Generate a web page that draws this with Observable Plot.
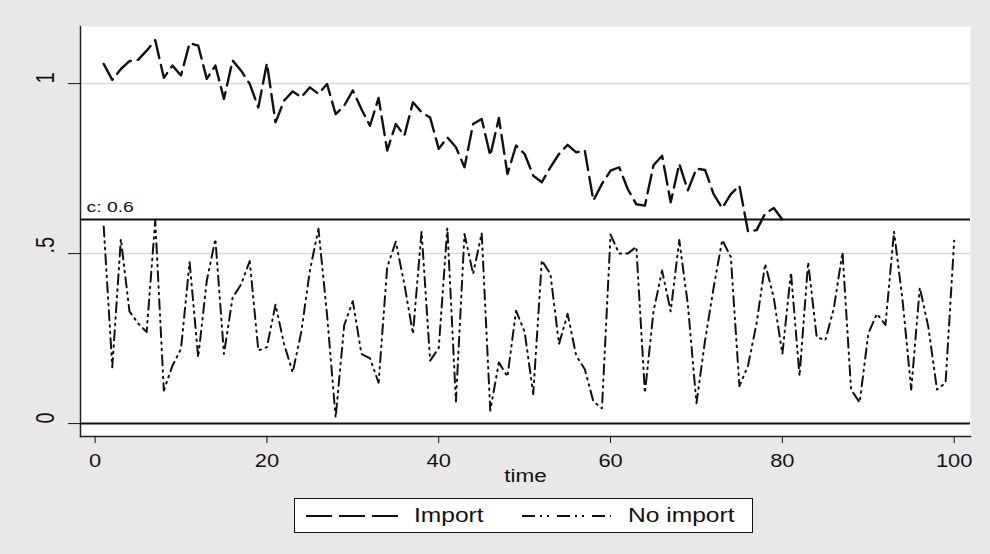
<!DOCTYPE html>
<html>
<head>
<meta charset="utf-8">
<script src="https://cdn.jsdelivr.net/npm/d3@7"></script>
<script src="https://cdn.jsdelivr.net/npm/@observablehq/plot@0.6"></script>
<style>
  html, body { margin: 0; padding: 0; background: #e8e8e8; width: 990px; height: 554px; overflow: hidden; font-family: "Liberation Sans", Arial, sans-serif; }
  #chart { position: absolute; left: 0; top: 0; }
  #legend { position: absolute; left: 294px; top: 498px; width: 457px; height: 33px; background: #fff; border: 1px solid #111; }
  #legend .item { position: absolute; top: 0; height: 33px; display: flex; align-items: center; }
  #legend .lbl span { display: inline-block; font-size: 19.5px; color: #111; white-space: nowrap; transform: scaleX(1.26); transform-origin: left center; }
</style>
</head>
<body>
<div id="chart"></div>
<div id="legend"></div>
<script>
// ---- data ----
const importValues = [
  1.058, 1.011, 1.043, 1.066, 1.070, 1.097, 1.128, 1.017, 1.053, 1.024,
  1.119, 1.112, 1.014, 1.053, 0.955, 1.068, 1.038, 0.999, 0.930, 1.060,
  0.886, 0.950, 0.977, 0.960, 0.989, 0.970, 0.999, 0.910, 0.935, 0.980,
  0.925, 0.876, 0.958, 0.803, 0.881, 0.847, 0.945, 0.916, 0.900, 0.808,
  0.842, 0.813, 0.754, 0.881, 0.896, 0.788, 0.899, 0.734, 0.818, 0.793,
  0.729, 0.710, 0.754, 0.793, 0.820, 0.798, 0.803, 0.656, 0.705, 0.744,
  0.754, 0.690, 0.645, 0.641, 0.760, 0.788, 0.651, 0.764, 0.686, 0.750,
  0.746, 0.675, 0.634, 0.675, 0.700, 0.565, 0.569, 0.618, 0.634, 0.600
];
const noImportValues = [
  0.580, 0.166, 0.543, 0.330, 0.295, 0.269, 0.597, 0.097, 0.170, 0.220,
  0.475, 0.195, 0.420, 0.543, 0.205, 0.370, 0.410, 0.478, 0.215, 0.225,
  0.350, 0.234, 0.150, 0.270, 0.450, 0.573, 0.320, 0.018, 0.290, 0.360,
  0.205, 0.192, 0.120, 0.460, 0.535, 0.410, 0.264, 0.565, 0.185, 0.222,
  0.575, 0.065, 0.558, 0.440, 0.560, 0.038, 0.180, 0.138, 0.332, 0.270,
  0.087, 0.480, 0.440, 0.234, 0.323, 0.200, 0.160, 0.065, 0.045, 0.556,
  0.500, 0.500, 0.520, 0.090, 0.330, 0.450, 0.330, 0.540, 0.350, 0.060,
  0.244, 0.400, 0.540, 0.490, 0.110, 0.170, 0.295, 0.470, 0.370, 0.205,
  0.445, 0.140, 0.475, 0.254, 0.245, 0.340, 0.504, 0.100, 0.062, 0.264,
  0.323, 0.290, 0.565, 0.360, 0.100, 0.400, 0.283, 0.100, 0.120, 0.538
];
const xTicks = [0, 20, 40, 60, 80, 100];
const yTicks = [0, 0.5, 1];
const yTickLabels = ["0", ".5", "1"];
const gridValues = [0.5, 1];
const refLineValue = 0.6;
const refLineLabel = "c: 0.6";
const zeroLineValue = 0;
const xTitle = "time";
const seriesNames = ["Import", "No import"];

// ---- styles ----
const importDash = "19,7";
const noImportDash = "10,5,1.5,5,1.5,5";
const textStretch = 1.25;

const importData = importValues.map((v, i) => ({t: i + 1, v}));
const noImportData = noImportValues.map((v, i) => ({t: i + 1, v}));

const chart = Plot.plot({
  width: 990,
  height: 490,
  marginTop: 26,
  marginRight: 20,
  marginBottom: 54,
  marginLeft: 80,
  style: {background: "transparent", fontFamily: "Liberation Sans, Arial, sans-serif", color: "#111"},
  x: {domain: [-1.7, 101.9]},
  y: {domain: [-0.038, 1.168]},
  marks: [
    Plot.frame({fill: "white", stroke: null}),
    Plot.ruleY(gridValues, {stroke: "#d9d9d9", strokeWidth: 1.5}),
    Plot.ruleY([refLineValue], {stroke: "#111", strokeWidth: 2}),
    Plot.ruleY([zeroLineValue], {stroke: "#111", strokeWidth: 2}),
    Plot.line(noImportData, {x: "t", y: "v", stroke: "#111", strokeWidth: 2, strokeDasharray: noImportDash}),
    Plot.line(importData, {x: "t", y: "v", stroke: "#111", strokeWidth: 2.4, strokeDasharray: importDash}),
    Plot.text([refLineValue], {y: d => d, frameAnchor: "left", text: () => refLineLabel, textAnchor: "start", dx: 6, dy: -13, fontSize: 15.5, fill: "#111"}),
    Plot.frame({anchor: "left", stroke: "#222", strokeWidth: 1.5}),
    Plot.frame({anchor: "bottom", stroke: "#222", strokeWidth: 1.5}),
    Plot.axisX(xTicks, {tickSize: 7, tickPadding: 11, fontSize: 17.5, label: null, tickFormat: d => String(d)}),
    Plot.axisY(yTicks, {tickSize: 12, tickFormat: () => "", label: null}),
    Plot.text(yTicks, {y: d => d, frameAnchor: "left", text: (d, i) => yTickLabels[i], rotate: -90, dx: -35, fontSize: 20, fill: "#111"}),
    Plot.text([xTitle], {frameAnchor: "bottom", text: d => d, dy: 45, fontSize: 18, fill: "#111"})
  ]
});
document.getElementById("chart").appendChild(chart);

// widen glyphs horizontally (the reference image is horizontally stretched)
d3.select(chart).selectAll("text").each(function () {
  const t = d3.select(this);
  let tr = t.attr("transform") || "";
  const x = +(t.attr("x") || 0), y = +(t.attr("y") || 0);
  if (x || y) { t.attr("x", null).attr("y", null); tr = `${tr} translate(${x},${y})`; }
  const rotated = /rotate\(\s*-?90/.test(tr);
  t.attr("transform", `${tr} ${rotated ? `scale(1,${textStretch})` : `scale(${textStretch},1)`}`);
});

// ---- legend ----
const legend = document.getElementById("legend");
const items = [
  {name: seriesNames[0], dash: "26,7", sx: 11, sw: 93, lx: 119},
  {name: seriesNames[1], dash: "13,5,2,5,2,8", sx: 227, sw: 89, lx: 333}
];
for (const it of items) {
  const s = document.createElement("div");
  s.className = "item";
  s.style.left = it.sx + "px";
  s.innerHTML = `<svg width="${it.sw}" height="33"><line x1="0" x2="${it.sw}" y1="17" y2="17" stroke="#111" stroke-width="2" stroke-dasharray="${it.dash}"/></svg>`;
  legend.appendChild(s);
  const l = document.createElement("div");
  l.className = "item lbl";
  l.style.left = it.lx + "px";
  const sp = document.createElement("span");
  sp.textContent = it.name;
  l.appendChild(sp);
  legend.appendChild(l);
}
</script>
</body>
</html>
